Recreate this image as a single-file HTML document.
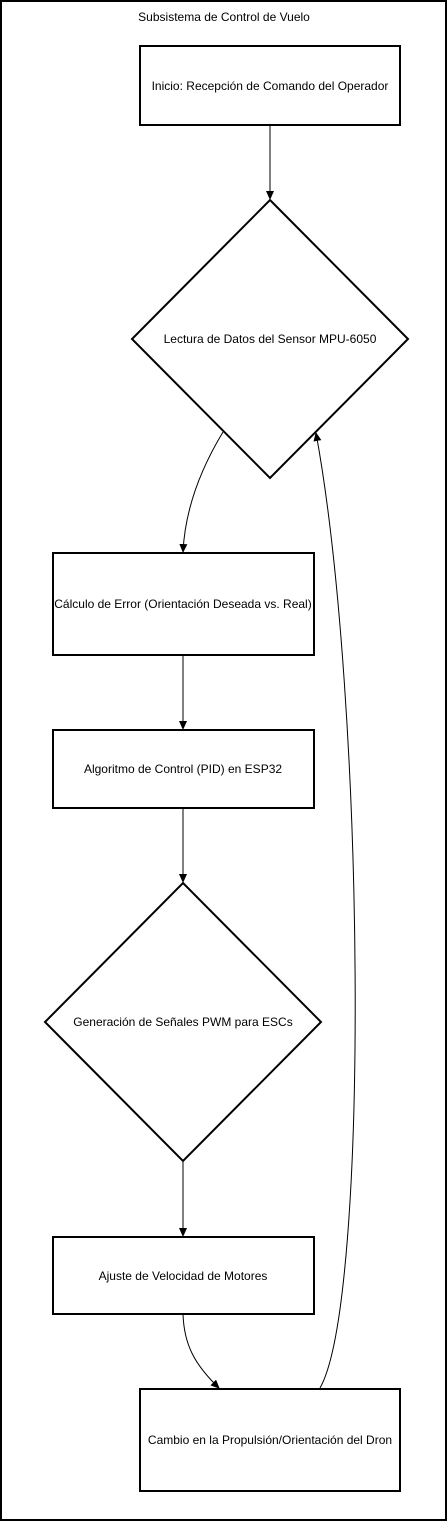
<!DOCTYPE html>
<html><head><meta charset="utf-8"><style>
html,body{margin:0;padding:0;background:#fff;}
svg{display:block;}
text{font-family:"Liberation Sans",Arial,sans-serif;font-size:12px;fill:#000;}
</style></head><body>
<svg width="447" height="1521" viewBox="0 0 447 1521" xmlns="http://www.w3.org/2000/svg">
<defs><marker id="a" markerWidth="10" markerHeight="10" refX="8" refY="4" orient="auto" markerUnits="userSpaceOnUse"><path d="M0,0 L9,4 L0,8 Z" fill="#000"/></marker></defs>
<rect x="1" y="1" width="445" height="1519" fill="none" stroke="#000" stroke-width="2"/>
<text x="224" y="21" text-anchor="middle">Subsistema de Control de Vuelo</text>
<g fill="#fff" stroke="#000" stroke-width="2">
<rect x="140" y="46" width="260" height="79"/>
<polygon points="270,200 408,339 270,478 132,339"/>
<rect x="53" y="553" width="261" height="102"/>
<rect x="53" y="730" width="261" height="78"/>
<polygon points="183,883 321,1022 183,1161 45,1022"/>
<rect x="53" y="1237" width="261" height="77"/>
<rect x="140" y="1389" width="260" height="102"/>
</g>
<g fill="none" stroke="#000" stroke-width="1">
<path d="M270,125 L270,199" marker-end="url(#a)"/>
<path d="M223,432 C200,470 185,510 183,552" marker-end="url(#a)"/>
<path d="M183,655 L183,729" marker-end="url(#a)"/>
<path d="M183,808 L183,882" marker-end="url(#a)"/>
<path d="M183,1161 L183,1236" marker-end="url(#a)"/>
<path d="M183,1314 C184,1345 195,1365 219,1388" marker-end="url(#a)"/>
<path d="M320,1388 C370,1300 365,700 316,433" marker-end="url(#a)"/>
</g>
<g text-anchor="middle">
<text x="270" y="90">Inicio: Recepción de Comando del Operador</text>
<text x="270" y="343">Lectura de Datos del Sensor MPU-6050</text>
<text x="183" y="608">Cálculo de Error (Orientación Deseada vs. Real)</text>
<text x="183" y="773">Algoritmo de Control (PID) en ESP32</text>
<text x="183" y="1026">Generación de Señales PWM para ESCs</text>
<text x="183" y="1280">Ajuste de Velocidad de Motores</text>
<text x="270" y="1444">Cambio en la Propulsión/Orientación del Dron</text>
</g>
</svg>
</body></html>
